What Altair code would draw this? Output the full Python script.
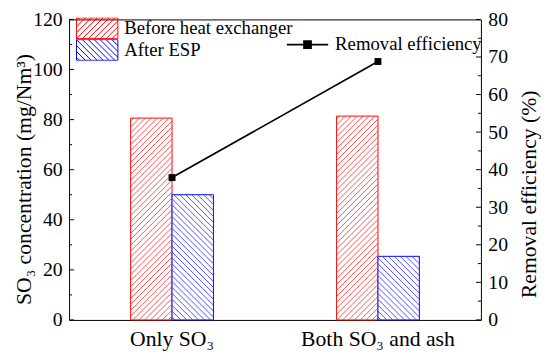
import altair as alt
import pandas as pd

# ---------------- data ----------------
categories = ["Only SO₃", "Both SO₃ and ash"]
series_names = ["Before heat exchanger", "After ESP"]
before_hx = [80.6, 81.4]
after_esp = [50.0, 25.4]
efficiency = [37.9, 68.8]
line_name = "Removal efficiency"
left_major = [0, 20, 40, 60, 80, 100, 120]
left_minor = [10, 30, 50, 70, 90, 110]
right_major = [0, 10, 20, 30, 40, 50, 60, 70, 80]
right_minor = [5, 15, 25, 35, 45, 55, 65, 75]

# ---------------- layout / style ----------------
W, H = 418, 305
LMAX, RMAX = 120, 80
PI, PO = 0.598, 0.299
FONT = "Liberation Serif"
series_stroke = ["#ff0000", "#0000ff"]
series_hatch = ["#ff3c3c", "#3c3cff"]
series_dir = ["up", "down"]
SPACING = 6.0

n_cat, n_ser = len(categories), len(series_names)
step = W / (n_cat - PI + 2 * PO)
band = step * (1 - PI)
bw = band / n_ser


def hatch_path(direction):
    s = SPACING / 21.0
    parts = ["M-1,-0.5L1,-0.5L1,0.5L-1,0.5Z"]
    k = -1.5 + s / 2
    while k < 1.5:
        if direction == "up":
            y1, y2 = max(-0.5, k - 1), min(0.5, k + 1)
            if y2 - y1 > 0.02:
                parts.append(f"M{k - y1:.3f},{y1:.3f}L{k - y2:.3f},{y2:.3f}")
        else:
            y1, y2 = max(-0.5, -1 - k), min(0.5, 1 - k)
            if y2 - y1 > 0.02:
                parts.append(f"M{k + y1:.3f},{y1:.3f}L{k + y2:.3f},{y2:.3f}")
        k += s
    return "".join(parts)


bars = pd.DataFrame({
    "cat": categories * 2,
    "series": [series_names[0]] * n_cat + [series_names[1]] * n_cat,
    "value": before_hx + after_esp,
})
eff = pd.DataFrame({"cat": categories, "eff": efficiency, "name": [line_name] * n_cat})

# hatch segments derived from the bar values (pixel x, data y)
seg_rows = []
for j, vals in enumerate([before_hx, after_esp]):
    for i, v in enumerate(vals):
        x0 = PO * step + i * step + j * bw
        hpx = v / LMAX * H
        k = -hpx + 3.0 if series_dir[j] == "up" else 3.0
        kmax = bw if series_dir[j] == "up" else bw + hpx
        while k < kmax:
            if series_dir[j] == "up":
                xa, xb = max(0.0, k), min(bw, k + hpx)
                ya, yb = xa - k, xb - k
            else:
                xa, xb = max(0.0, k - hpx), min(bw, k)
                ya, yb = k - xa, k - xb
            if xb - xa > 0.3:
                seg_rows.append({"series": series_names[j], "x": x0 + xa, "x2": x0 + xb,
                                 "y": ya / H * LMAX, "y2": yb / H * LMAX})
            k += SPACING
segs = pd.DataFrame(seg_rows)

xscale = alt.Scale(domain=categories, paddingInner=PI, paddingOuter=PO)
xoscale = alt.Scale(domain=series_names, paddingInner=0, paddingOuter=0)
ylscale = alt.Scale(domain=[0, LMAX], nice=False, zero=True)
yrscale = alt.Scale(domain=[0, RMAX], nice=False, zero=True)
pxscale = alt.Scale(domain=[0, W], nice=False, zero=True)

x_axis = alt.Axis(title=None, labelFontSize=22, labelPadding=9, labelAngle=0,
                  ticks=False, domain=False, labelLimit=0)
yl_axis = alt.Axis(title="SO₃ concentration (mg/Nm³)", values=left_major, labelFontSize=20,
                   labelPadding=7, titleFontSize=22, titleAngle=270, titleX=-39, titleY=162,
                   titleAlign="center", titleBaseline="alphabetic", ticks=False, domain=False,
                   orient="left")
yr_axis = alt.Axis(title="Removal efficiency (%)", values=right_major, labelFontSize=20,
                   labelPadding=7, titleFontSize=22, titleAngle=270, titleX=55, titleY=177,
                   titleAlign="center", titleBaseline="alphabetic", ticks=False, domain=False,
                   orient="right")

X = alt.X("cat:N", scale=xscale, axis=x_axis)
XN = alt.X("cat:N", scale=xscale, axis=None)
XO = alt.XOffset("series:N", scale=xoscale)
YL = alt.Y("value:Q", scale=ylscale, axis=yl_axis)

# ---------------- left (concentration) group ----------------
bar_layer = alt.Chart(bars).mark_bar(fill="white", strokeWidth=1).encode(
    x=X, xOffset=XO, y=YL,
    stroke=alt.Stroke("series:N", scale=alt.Scale(domain=series_names, range=series_stroke), legend=None),
)

bar_legend = alt.Legend(
    title=None, orient="none", legendX=7, legendY=-2, symbolSize=1764, clipHeight=22,
    rowPadding=0, labelOffset=6, symbolOpacity=1, symbolStrokeWidth=1, labelLimit=0,
    symbolFillColor="white", labelFontSize=19, labelFont=FONT, labelColor="black", padding=0,
)
legend_pts = alt.Chart(bars).mark_point(filled=False, opacity=0).encode(
    x=X, xOffset=XO, y=YL,
    color=alt.Color("series:N", scale=alt.Scale(domain=series_names, range=series_stroke), legend=bar_legend),
    shape=alt.Shape("series:N", scale=alt.Scale(domain=series_names, range=[hatch_path(d) for d in series_dir]), legend=bar_legend),
)

lt_major = alt.Chart(pd.DataFrame({"value": left_major})).mark_rule(color="black", strokeWidth=1).encode(
    y=YL, x=alt.value(0), x2=alt.value(5))
lt_minor = alt.Chart(pd.DataFrame({"value": left_minor})).mark_rule(color="black", strokeWidth=1).encode(
    y=YL, x=alt.value(0), x2=alt.value(3))
left = alt.layer(bar_layer, legend_pts, lt_major, lt_minor)

# ---------------- hatch lines ----------------
hatch = alt.Chart(segs).mark_rule(strokeWidth=0.9).encode(
    x=alt.X("x:Q", scale=pxscale, axis=None),
    x2="x2:Q",
    y=alt.Y("y:Q", scale=ylscale, axis=None),
    y2="y2:Q",
    color=alt.Color("series:N", scale=alt.Scale(domain=series_names, range=series_hatch), legend=None),
)

# ---------------- right (efficiency) group ----------------
line_legend = alt.Legend(
    title=None, orient="none", legendX=220, legendY=15, symbolSize=1764, clipHeight=21,
    labelOffset=6, symbolType="M-1,0L1,0M-0.17,-0.17L0.17,-0.17L0.17,0.17L-0.17,0.17Z",
    symbolFillColor="black", symbolStrokeWidth=1.7, symbolOpacity=1, labelLimit=0,
    labelFontSize=19, labelFont=FONT, labelColor="black", padding=0,
)
YR = alt.Y("eff:Q", scale=yrscale, axis=yr_axis)
line = alt.Chart(eff).mark_line(strokeWidth=1.7).encode(
    x=XN, y=YR,
    color=alt.Color("name:N", scale=alt.Scale(domain=[line_name], range=["black"]), legend=line_legend),
)
squares = alt.Chart(eff).mark_square(size=49, color="black", opacity=1, filled=True).encode(
    x=XN, y=YR,
)
rt_major = alt.Chart(pd.DataFrame({"eff": right_major})).mark_rule(color="black", strokeWidth=1).encode(
    y=YR, x=alt.value(W), x2=alt.value(W - 5))
rt_minor = alt.Chart(pd.DataFrame({"eff": right_minor})).mark_rule(color="black", strokeWidth=1).encode(
    y=YR, x=alt.value(W), x2=alt.value(W - 3))
right = alt.layer(line, squares, rt_major, rt_minor)

chart = alt.layer(left, hatch, right).resolve_scale(
    x="independent", y="independent", color="independent", shape="independent"
).properties(
    width=W, height=H,
    padding={"left": 62, "top": 9, "right": 62, "bottom": 34},
    autosize=alt.AutoSizeParams(type="none"),
    background="white",
).configure_axis(
    labelFont=FONT, titleFont=FONT, labelColor="black", titleColor="black",
    titleFontWeight="normal", grid=False,
).configure_view(
    stroke="black", strokeWidth=1,
).configure_legend(
    labelFont=FONT,
)

chart.save("out.html", embed_options={"renderer": "svg", "actions": False})
